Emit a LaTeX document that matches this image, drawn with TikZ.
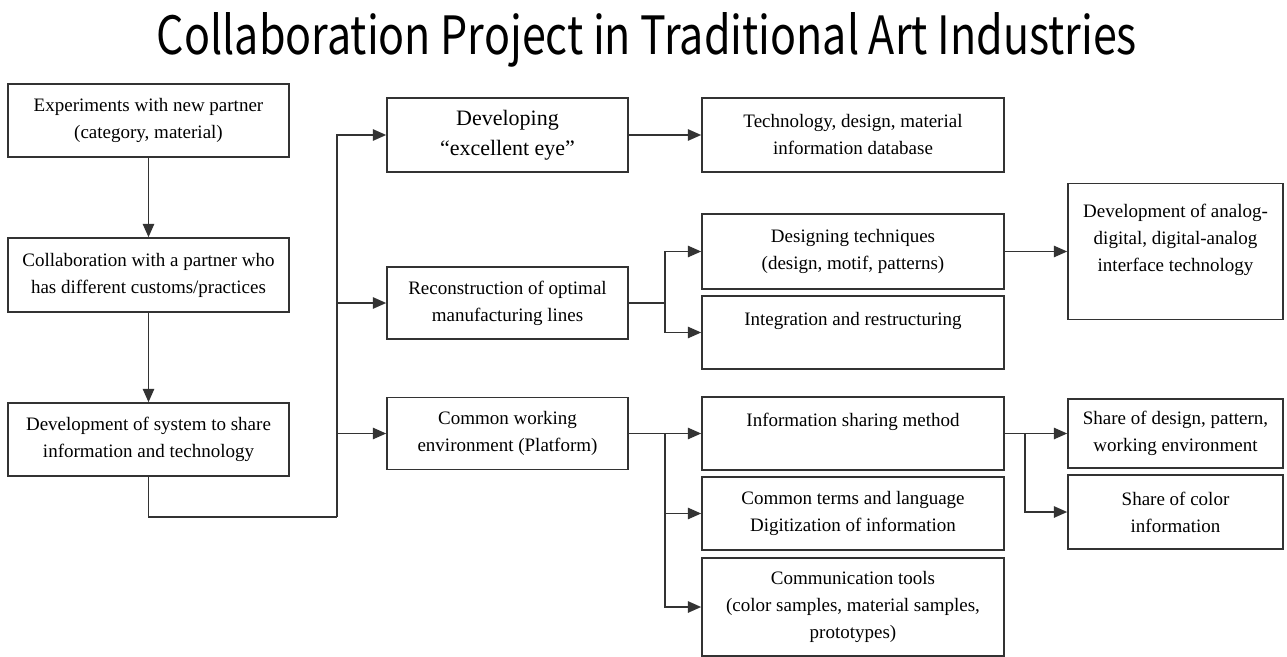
\documentclass[tikz,border=0pt]{standalone}
\usepackage{fontspec}
\setmainfont{Liberation Serif}
\newfontfamily\titlefont{Noto Sans CJK JP}
\usepackage{graphicx}
\usepackage{tikz}
\usetikzlibrary{arrows.meta}

\tikzset{
  box/.style={draw=black!80, line width=1.2pt, rectangle, inner sep=0pt, align=center,
    font=\fontsize{14.25}{20.25}\selectfont},
  wleft/.style={box, minimum width=281*0.75pt},
  wmid/.style={box, minimum width=241*0.75pt},
  wright/.style={box, minimum width=302*0.75pt},
  wfar/.style={box, minimum width=215*0.75pt},
  link/.style={draw=black!80, line width=1.3pt},
  arr/.style={link, -{Triangle[length=10pt,width=8.5pt]}},
}

\begin{document}
\begin{tikzpicture}[x=0.75pt,y=0.75pt,yscale=-1,xscale=1]
    \useasboundingbox (0,0) rectangle (1287,656);

    % Text Node
    \node (title) [anchor=base] at (647,55) {\resizebox{735pt}{31.5pt}{\titlefont Collaboration Project in Traditional Art Industries}};

    %Shape: Rectangle [left column]
    \node (expt) [wleft, minimum height=73*0.75pt] at (148.5,120.5) {Experiments with new partner\\(category, material)};
    \node (collab) [wleft, minimum height=74*0.75pt] at (148.5,275) {Collaboration with a partner who\\has different customs/practices};
    \node (devsys) [wleft, minimum height=73*0.75pt] at (148.5,439.5) {Development of system to share\\information and technology};

    %Shape: Rectangle [middle column]
    \node (develop) [wmid, minimum height=74*0.75pt, font=\fontsize{16.5}{22.5}\selectfont] at (507.5,135) {Developing\\“excellent eye”};
    \node (recon) [wmid, minimum height=72*0.75pt] at (507.5,303) {Reconstruction of optimal\\manufacturing lines};
    \node (common) [wmid, minimum height=72*0.75pt] at (507.5,433.5) {Common working\\environment (Platform)};

    %Shape: Rectangle [right column]
    \node (techdb) [wright, minimum height=74*0.75pt] at (853,135) {Technology, design, material\\information database};
    \node (designtech) [wright, minimum height=75*0.75pt] at (853,251.5) {Designing techniques\\(design, motif, patterns)};
    \node (integ) [wright, minimum height=73*0.75pt] at (853,332.5) {Integration and restructuring\\\mbox{}};
    \node (infoshare) [wright, minimum height=73*0.75pt] at (853,433.5) {Information sharing method\\\mbox{}};
    \node (terms) [wright, minimum height=73*0.75pt] at (853,513.5) {Common terms and language\\Digitization of information};
    \node (tools) [wright, minimum height=98*0.75pt] at (853,607) {Communication tools\\(color samples, material samples,\\prototypes)};

    %Shape: Rectangle [far right]
    \node (analog) [wfar, minimum height=136*0.75pt] at (1175.5,251.5) {Development of analog-\\digital, digital-analog\\interface technology\\\mbox{}};
    \node (sharedesign) [wfar, minimum height=69*0.75pt] at (1175.5,433.5) {Share of design, pattern,\\working environment};
    \node (sharecolor) [wfar, minimum height=74*0.75pt] at (1175.5,512) {Share of color\\information};

    %Straight Lines
    \draw [arr] (expt) -- (collab);
    \draw [arr] (collab) -- (devsys);

    \coordinate (trunk) at (337,517);
    \draw [link] (devsys.south) |- (trunk);
    \draw [arr] (trunk) |- (develop.west);
    \draw [arr] (trunk |- recon.west) -- (recon.west);
    \draw [arr] (trunk |- common.west) -- (common.west);

    \draw [arr] (develop) -- (techdb);

    \draw [arr] (recon.east) -- ++(36,0) |- (designtech.west);
    \draw [arr] (recon.east) -- ++(36,0) |- (integ.west);
    \draw [arr] (designtech) -- (analog);

    \draw [arr] (common.east) -- ++(36,0) |- (infoshare.west);
    \draw [arr] (common.east) -- ++(36,0) |- (terms.west);
    \draw [arr] (common.east) -- ++(36,0) |- (tools.west);

    \draw [arr] (infoshare.east) -- ++(20,0) |- (sharedesign.west);
    \draw [arr] (infoshare.east) -- ++(20,0) |- (sharecolor.west);

\end{tikzpicture}
\end{document}
